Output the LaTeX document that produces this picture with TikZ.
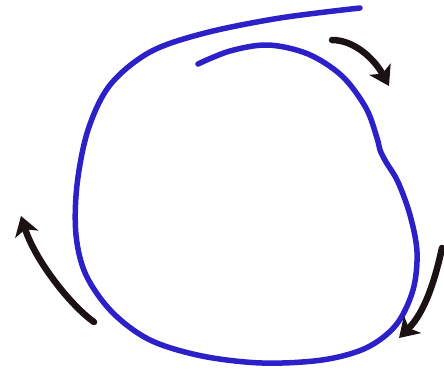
\documentclass[tikz,border=0pt]{standalone}
\usetikzlibrary{arrows.meta}
\definecolor{penblue}{RGB}{44,32,200}
\definecolor{penblack}{RGB}{28,18,20}
\tikzset{
  loopline/.style={draw=penblue, line width=5.5pt, line cap=round, line join=round},
  turnarrow/.style={draw=penblack, line width=6.5pt, line cap=round, -{Stealth[length=19pt,width=24pt,inset=5pt]}}
}
\begin{document}
\begin{tikzpicture}[x=1pt,y=-1pt]
\useasboundingbox (0,0) rectangle (444,378);
% loop
\draw[loopline] plot[smooth, tension=0.55] coordinates {
 (198,64) (230,51) (268,45) (308,54) (342,76) (366,108) (377,138) (380,150)
 (386,162) (398,182) (410,215) (417,252) (413,290) (396,325) (366,348)
 (322,360) (262,363) (202,356) (150,340) (112,312) (86,275) (76,235)
 (77,185) (88,130) (110,85) (150,52) (205,33) (280,18) (360,8)};
% arrows
\coordinate (a1s) at (332,40);
\coordinate (a1e) at (389,86);
\draw[turnarrow] (a1s) .. controls (355,40) and (375,60) .. (a1e);
\coordinate (a2s) at (94,322);
\coordinate (a2e) at (21,216);
\draw[turnarrow] (a2s) .. controls (70,305) and (35,260) .. (a2e);
\coordinate (a3s) at (442,248);
\coordinate (a3e) at (399,338);
\draw[turnarrow] (a3s) .. controls (435,280) and (425,312) .. (a3e);
\end{tikzpicture}
\end{document}
